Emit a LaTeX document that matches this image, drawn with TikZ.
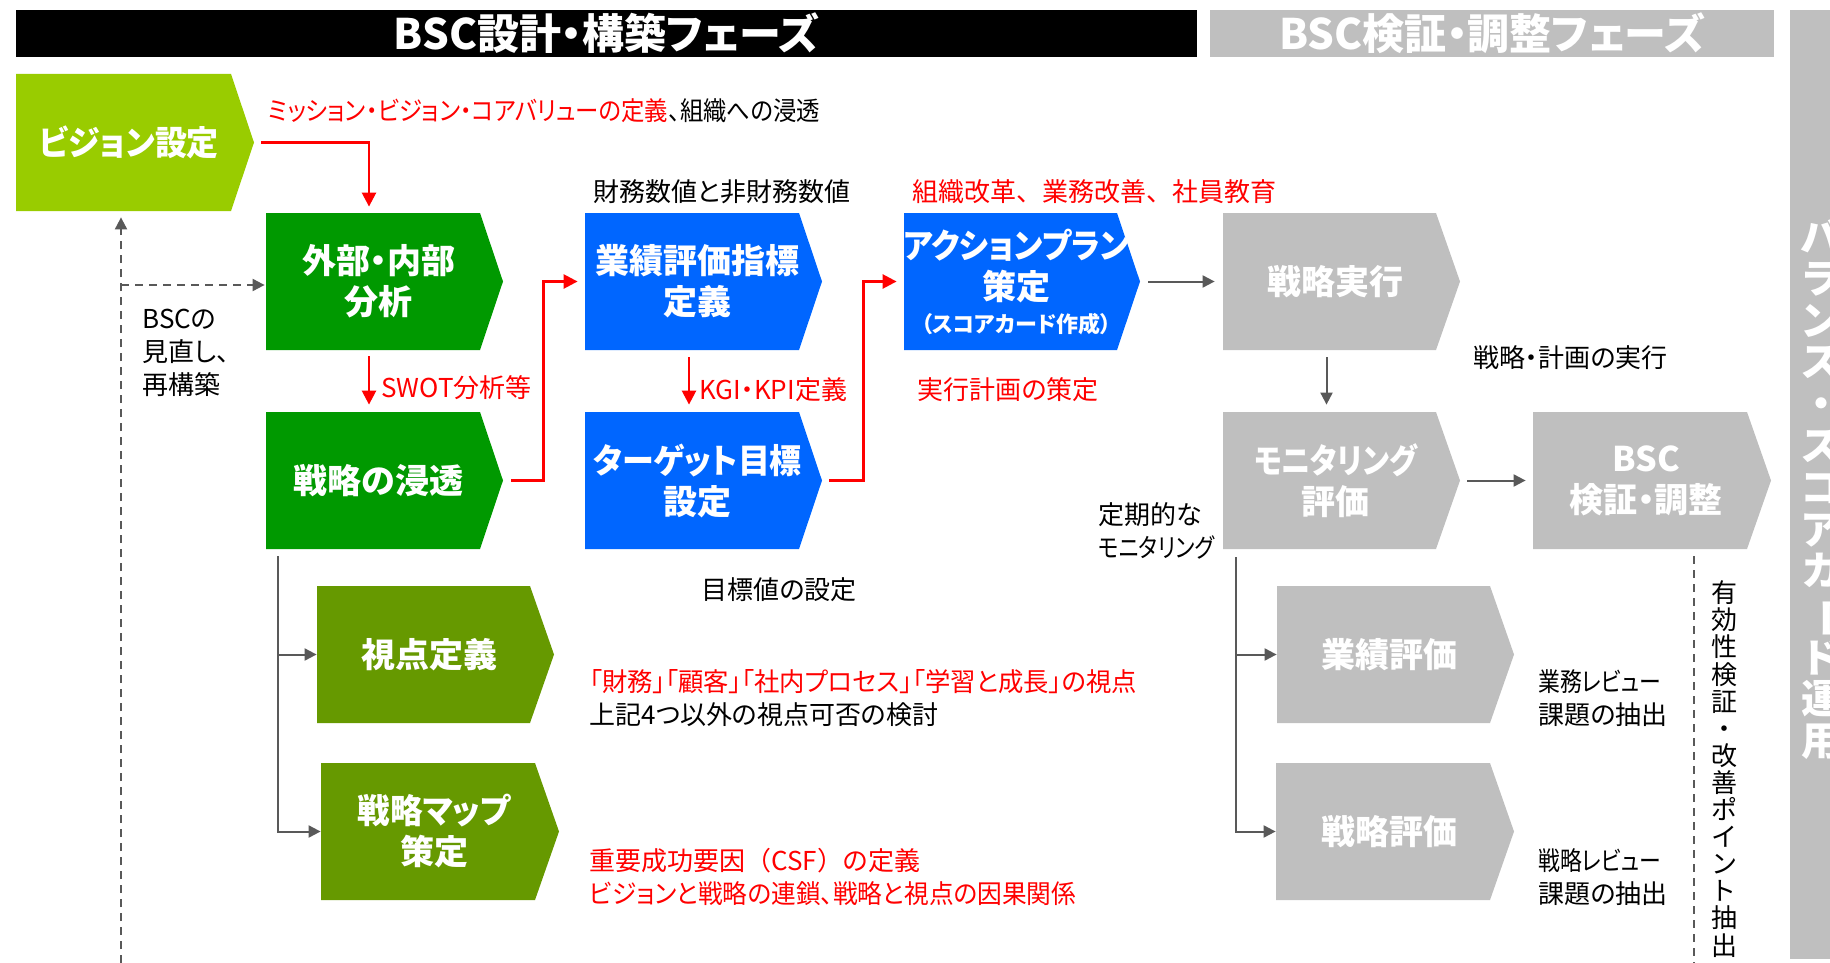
\documentclass[tikz,border=0pt]{standalone}
\usepackage{fontspec}
\usepackage{graphicx}
\setmainfont{Noto Sans CJK JP}[RawFeature=+palt]
\newfontfamily\jpfull{Noto Sans CJK JP}
\usetikzlibrary{arrows.meta,calc}
\definecolor{cLime}{HTML}{99CC00}
\definecolor{cGreen}{HTML}{009900}
\definecolor{cBlue}{HTML}{0066FF}
\definecolor{cOlive}{HTML}{669900}
\definecolor{cGray}{HTML}{BFBFBF}
\definecolor{cRed}{HTML}{FF0000}
\definecolor{cDark}{HTML}{595959}
\newcommand\hs[2]{\scalebox{#1}[1]{#2}}
\newcommand\chev[8]{%
  \fill[#7] (#2,#3) -- (#4,#3) -- (#5,{(#3+#6)/2}) -- (#4,#6) -- (#2,#6) -- cycle;
  \node[name=#1, inner sep=0, minimum width={(#4-#2)*0.5pt}, minimum height={(#6-#3)*0.5pt}] at ({(#2+#4)/2},{(#3+#6)/2}) {};
  \node[boxtxt, name=#1-t] at ({(2*#2+#4+#5)/4},{(#3+#6)/2}) {#8};
}
\begin{document}
\begin{tikzpicture}[x=0.5pt,y=-0.5pt,
  boxtxt/.style={text=white, font=\bfseries\fontsize{17}{20.5}\selectfont, align=center, inner sep=0},
  hdr/.style={text=white, font=\bfseries\fontsize{21}{24}\selectfont, inner sep=0},
  note/.style={font=\fontsize{13}{16.5}\selectfont, align=left, anchor=west, inner sep=0},
  rednote/.style={note, text=cRed},
  vnote/.style={font=\fontsize{13}{13.55}\selectfont, align=center, inner sep=0},
  bandtxt/.style={text=white, font=\bfseries\fontsize{20}{20.9}\selectfont, align=center, inner sep=0},
  redarr/.style={draw=cRed, line width=1.25pt, -{Triangle[length=7pt,width=7pt]}},
  grayarr/.style={draw=cDark, line width=1pt, -{Triangle[length=6pt,width=6pt]}},
  dasharr/.style={draw=cDark, line width=1pt, dash pattern=on 4pt off 3pt, -{Triangle[length=6pt,width=6pt]}},
  dashline/.style={draw=cDark, line width=0.8pt, dash pattern=on 4pt off 3pt}
]
\useasboundingbox (0,0) rectangle (1830,963);
\clip (0,0) rectangle (1830,963);
% headers
\node[hdr, fill=black, minimum width=590.5pt, minimum height=23.5pt] (h1) at (606.5,33.5) {BSC設計・構築フェーズ};
\node[hdr, fill=cGray, minimum width=282pt, minimum height=23.5pt] (h2) at (1492,33.5) {BSC検証・調整フェーズ};
\node[fill=cGray, minimum width=31pt, minimum height=474.5pt, inner sep=0] (band) at (1821,484.5) {};
\node[bandtxt] (bandt) at (1821,488.5) {バ\\ラ\\ン\\ス\\・\\ス\\コ\\ア\\カ\\\rotatebox[origin=c]{-90}{ー}\\ド\\運\\用};
% boxes
\chev{vis}{16}{74}{231}{254}{211}{cLime}{\hs{0.94}{ビジョン設定}}
\chev{gaibu}{266}{213}{480}{503}{350}{cGreen}{外部・内部\\分析}
\chev{shintou}{266}{412}{480}{503}{549}{cGreen}{戦略の浸透}
\chev{gyoseki}{585}{213}{799}{822}{350}{cBlue}{業績評価指標\\定義}
\chev{target}{585}{412}{799}{822}{549}{cBlue}{\hs{0.94}{ターゲット目標}\\設定}
\chev{action}{904}{213}{1117}{1140}{350}{cBlue}{\hs{0.93}{アクションプラン}\\策定\\[-4pt]{\fontsize{11}{13}\selectfont（スコアカード作成）}}
\chev{jikko}{1223}{213}{1436}{1460}{350}{cGray}{戦略実行}
\chev{monitor}{1223}{412}{1436}{1460}{549}{cGray}{\hs{0.86}{モニタリング}\\評価}
\chev{bsc}{1533}{412}{1747}{1771}{549}{cGray}{BSC\\検証・調整}
\chev{shiten}{317}{586}{530}{554}{723}{cOlive}{視点定義}
\chev{smap}{321}{763}{535}{559}{900}{cOlive}{\hs{0.96}{戦略マップ}\\策定}
\chev{gyohyo}{1277}{586}{1490}{1514}{723}{cGray}{業績評価}
\chev{senhyo}{1276}{763}{1490}{1514}{900}{cGray}{戦略評価}
% red connectors
\draw[redarr] ($(vis.east)+(30,0)$) -| ($(gaibu.north)+(-4,-6)$);
\draw[redarr] ($(gaibu.south)+(-4,6)$) -- ($(shintou.north)+(-4,-7)$);
\draw[redarr] ($(shintou.east)+(31,0)$) -- ++(32,0) |- ($(gyoseki.west)+(-7,0)$);
\draw[redarr] ($(gyoseki.south)+(-3,7)$) -- ($(target.north)+(-3,-7)$);
\draw[redarr] ($(target.east)+(30,0)$) -- ++(34,0) |- ($(action.west)+(-7,0)$);
% gray connectors
\draw[grayarr] ($(action.east)+(31,0)$) -- ($(jikko.west)+(-8,0)$);
\draw[grayarr] ($(jikko.south)+(-3,7)$) -- ($(monitor.north)+(-3,-7)$);
\draw[grayarr] ($(monitor.east)+(31,0)$) -- ($(bsc.west)+(-7,0)$);
\draw[grayarr] ($(monitor.south west)+(13,8)$) |- (gyohyo.west);
\draw[grayarr] ($(monitor.south west)+(13,8)$) |- (senhyo.west);
\draw[grayarr] ($(shintou.south west)+(12,7)$) |- (shiten.west);
\draw[grayarr] ($(shintou.south west)+(12,7)$) |- (smap.west);
% dashed feedback
\coordinate (fbBottom) at (121,963);
\coordinate (fbJoin) at (121,285);
\draw[dasharr] (fbBottom) -- ($(fbBottom |- vis.south)+(0,6)$);
\draw[dasharr] (fbJoin) -- ($(gaibu.west |- fbJoin)+(-1,0)$);
\coordinate (vEnd) at (1694,963);
\draw[dashline] ($(bsc.south)+(54,7)$) -- (vEnd);
% notes
\node[note] (t1) at (268,111) {\hs{0.9}{{\color{cRed}ミッション・ビジョン・コアバリューの定義}、組織への浸透}};
\node[note] (t2) at (593,192) {財務数値と非財務数値};
\node[rednote] (t3) at (912,192) {組織改革{\jpfull 、}業務改善{\jpfull 、}社員教育};
\node[note] (t4) at (142,353) {BSCの\\見直し、\\再構築};
\node[rednote] (t5) at (381,388) {SWOT分析等};
\node[rednote] (t6) at (699,390) {KGI・KPI定義};
\node[rednote] (t7) at (917,390) {実行計画の策定};
\node[note] (t8) at (1473,358) {戦略・計画の実行};
\node[note] (t9) at (1098,531) {定期的な\\\hs{0.83}{モニタリング}};
\node[note] (t10) at (701,590) {目標値の設定};
\node[note] (t11) at (589,698.5) {\hs{0.975}{\color{cRed}「財務」「顧客」「社内プロセス」「学習と成長」の視点}\\上記4つ以外の視点可否の検討};
\node[rednote] (t12) at (589,876.5) {重要成功要因{\jpfull （}CSF{\jpfull ）}の定義\\\hs{0.95}{ビジョンと戦略の連鎖、戦略と視点の因果関係}};
\node[note] (t13) at (1538,698.5) {\hs{0.84}{業務レビュー}\\課題の抽出};
\node[note] (t14) at (1538,877.5) {\hs{0.84}{戦略レビュー}\\課題の抽出};
\node[vnote] (t15) at (1724,769) {有\\効\\性\\検\\証\\・\\改\\善\\ポ\\イ\\ン\\ト\\抽\\出};
\end{tikzpicture}
\end{document}
